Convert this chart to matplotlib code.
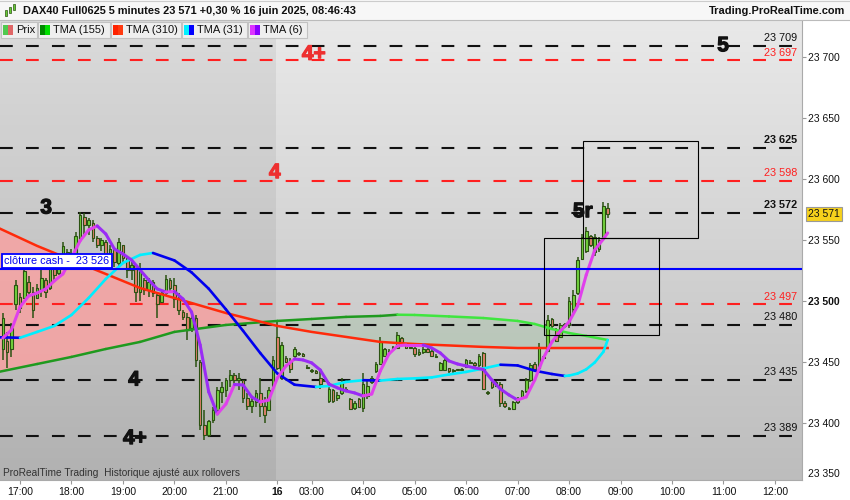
import numpy as np
import matplotlib
matplotlib.use("Agg")
import matplotlib.pyplot as plt
import matplotlib.patheffects as pe
from matplotlib.patches import Rectangle
from matplotlib.lines import Line2D
from matplotlib.colors import LinearSegmentedColormap

plt.rcParams['font.family'] = ['Liberation Sans', 'DejaVu Sans']
plt.rcParams['lines.scale_dashes'] = False

# ---------------- data ----------------
first_bar = -4   # bar index of first candle (Fri 16:40); Fri 17:00 = 0, Mon 03:00 = 68
opens = [23460, 23467, 23460, 23497, 23503, 23502, 23515, 23507, 23502, 23509,
         23517, 23510, 23529, 23523, 23532, 23540, 23535, 23537, 23551, 23569,
         23562, 23564, 23551, 23546, 23548, 23537, 23542, 23531, 23546, 23535,
         23525, 23529, 23507, 23517, 23509, 23515, 23505, 23499, 23506, 23517,
         23513, 23501, 23491, 23487, 23478, 23486, 23450, 23398, 23390, 23402,
         23410, 23425, 23427, 23435, 23439, 23435, 23435, 23420, 23414, 23417,
         23424, 23414, 23410, 23431,
         23470, 23437, 23453, 23450, 23455, 23457, 23456, 23446, 23443, 23442,
         23437, 23434, 23418, 23427, 23420, 23424, 23428, 23419, 23412, 23419,
         23412, 23422, 23433, 23442, 23448, 23455, 23459, 23461, 23461, 23469,
         23463, 23461, 23461, 23456, 23458, 23460, 23459, 23455, 23443, 23443,
         23445, 23442, 23443, 23443, 23446, 23450, 23449, 23447, 23457, 23425,
         23433, 23430, 23432, 23416, 23412, 23411, 23417, 23420, 23426, 23435,
         23448, 23445, 23454, 23459, 23485, 23476, 23470, 23479, 23480, 23493,
         23506, 23534, 23541, 23553, 23540, 23542, 23552, 23576]
highs = [23490, 23474, 23482, 23517, 23506, 23528, 23520, 23511, 23514, 23525,
         23519, 23535, 23533, 23537, 23548, 23542, 23542, 23556, 23573, 23572,
         23568, 23566, 23553, 23551, 23550, 23546, 23542, 23551, 23546, 23536,
         23532, 23529, 23531, 23519, 23519, 23517, 23506, 23509, 23521, 23519,
         23519, 23506, 23492, 23490, 23490, 23488, 23451, 23410, 23402, 23413,
         23429, 23433, 23437, 23443, 23441, 23441, 23435, 23424, 23421, 23427,
         23437, 23421, 23429, 23455,
         23484, 23466, 23455, 23453, 23462, 23458, 23457, 23447, 23444, 23443,
         23442, 23436, 23433, 23428, 23425, 23437, 23429, 23420, 23418, 23420,
         23441, 23435, 23438, 23450, 23470, 23461, 23460, 23463, 23474, 23470,
         23464, 23463, 23462, 23460, 23462, 23461, 23460, 23456, 23450, 23453,
         23445, 23444, 23444, 23445, 23452, 23451, 23450, 23456, 23458, 23426,
         23434, 23434, 23433, 23418, 23413, 23418, 23421, 23427, 23437, 23449,
         23450, 23465, 23455, 23488, 23486, 23478, 23482, 23482, 23503, 23509,
         23536, 23555, 23560, 23554, 23555, 23552, 23581, 23580]
lows = [23451, 23445, 23454, 23492, 23490, 23501, 23503, 23486, 23501, 23503,
        23502, 23509, 23517, 23521, 23528, 23529, 23531, 23533, 23550, 23552,
        23554, 23548, 23543, 23541, 23535, 23532, 23528, 23528, 23532, 23519,
        23517, 23499, 23500, 23505, 23503, 23503, 23486, 23498, 23505, 23507,
        23494, 23488, 23484, 23468, 23474, 23446, 23394, 23386, 23388, 23400,
        23408, 23416, 23421, 23429, 23432, 23427, 23416, 23410, 23408, 23413,
        23405, 23400, 23410, 23429,
        23443, 23435, 23449, 23441, 23453, 23455, 23454, 23444, 23441, 23440,
        23428, 23433, 23416, 23416, 23418, 23423, 23426, 23410, 23410, 23412,
        23409, 23419, 23432, 23441, 23447, 23454, 23457, 23460, 23460, 23465,
        23460, 23460, 23454, 23455, 23456, 23457, 23454, 23453, 23442, 23442,
        23441, 23441, 23442, 23442, 23445, 23448, 23446, 23446, 23427, 23423,
        23428, 23429, 23413, 23412, 23410, 23410, 23415, 23419, 23424, 23433,
        23443, 23444, 23452, 23458, 23477, 23466, 23470, 23478, 23478, 23490,
        23505, 23533, 23539, 23544, 23537, 23540, 23551, 23568]
closes = [23486, 23458, 23478, 23513, 23494, 23524, 23507, 23492, 23510, 23519,
          23507, 23532, 23521, 23535, 23545, 23533, 23539, 23553, 23570, 23562,
          23566, 23551, 23546, 23550, 23537, 23542, 23532, 23548, 23535, 23525,
          23529, 23507, 23525, 23509, 23515, 23506, 23497, 23506, 23518, 23510,
          23501, 23492, 23487, 23476, 23486, 23451, 23398, 23390, 23401, 23410,
          23427, 23429, 23435, 23439, 23435, 23437, 23420, 23414, 23418, 23424,
          23414, 23406, 23427, 23451,
          23445, 23464, 23450, 23444, 23460, 23456, 23455, 23445, 23442, 23441,
          23432, 23435, 23428, 23418, 23423, 23433, 23427, 23411, 23416, 23413,
          23432, 23430, 23437, 23448, 23466, 23460, 23458, 23462, 23472, 23466,
          23461, 23462, 23456, 23458, 23460, 23458, 23455, 23454, 23449, 23451,
          23442, 23443, 23443, 23444, 23451, 23449, 23447, 23455, 23428, 23424,
          23429, 23433, 23416, 23414, 23411, 23417, 23419, 23426, 23435, 23447,
          23444, 23462, 23453, 23484, 23479, 23467, 23480, 23481, 23500, 23505,
          23533, 23552, 23557, 23546, 23552, 23550, 23578, 23571]

# long moving averages (sampled bars)
ma_idx = [-5, 4, 12, 20, 28, 36, 48, 60, 68, 76, 84, 88, 92, 100, 108, 116,
          120, 124, 128, 132, 137]
tma155 = [23441.6, 23448.1, 23453.9, 23460.4, 23466.2, 23474.4, 23480.1,
          23483.4, 23485.0, 23486.7, 23487.5, 23488.5, 23488.3, 23487.1,
          23485.8, 23483.4, 23480.9, 23476.8, 23473.5, 23471.1, 23467.8]
tma310 = [23559.6, 23544.9, 23533.4, 23521.9, 23510.4, 23502.2, 23489.9,
          23479.3, 23474.4, 23470.3, 23466.2, 23465.3, 23464.5, 23463.3,
          23462.1, 23461.2, 23461.2, 23461.2, 23461.2, 23461.2, 23461.2]

t31_idx = [-5, 0, 4, 8, 12, 16, 20, 24, 28, 31, 36, 40, 44, 48, 52, 56, 60,
           64, 69, 72, 76, 80, 84, 88, 92, 96, 100, 104, 108, 112, 116, 120,
           124, 127, 128, 130, 132, 134, 136, 137]
tma31 = [23470.0, 23469.6, 23474.4, 23479.3, 23488.3, 23502.2, 23517.8,
         23530.9, 23537.5, 23539.1, 23533.0, 23523.2, 23509.8, 23492.9,
         23475.3, 23457.1, 23440.3, 23431.1, 23429.3, 23430.1, 23433.4,
         23434.8, 23434.5, 23435.8, 23436.3, 23437.1, 23439.5, 23441.6,
         23444.4, 23447.5, 23446.9, 23442.6, 23439.9, 23438.3, 23438.6,
         23440.3, 23443.7, 23449.4, 23458.1, 23467.8]

t6_idx = list(range(-4, 137, 2)) + [137]
tma6 = [23469.4, 23476.0, 23494.8, 23503.9, 23506.3, 23509.6, 23516.2,
        23521.9, 23535.0, 23549.0, 23558.0, 23561.3, 23554.7, 23542.4,
        23538.3, 23533.4, 23525.2, 23517.0, 23509.6, 23507.1, 23507.5,
        23501.4, 23490.7, 23463.7, 23425.2, 23407.1, 23415.3, 23431.3,
        23430.9, 23421.1, 23417.0, 23418.6, 23436.7, 23446.5, 23452.2,
        23451.4, 23449.0, 23443.2, 23431.7, 23428.5, 23426.0, 23424.4,
        23421.9, 23423.5, 23442.4, 23456.3, 23462.9, 23463.7, 23463.7,
        23463.7, 23461.2, 23457.1, 23450.6, 23448.1, 23446.5, 23444.9,
        23443.6, 23435.0, 23427.6, 23422.7, 23418.6, 23421.1, 23435.0,
        23453.0, 23466.2, 23475.2, 23482.6, 23495.7, 23521.1, 23541.6,
        23550.6, 23555.5]

levels_black = [23709, 23625, 23572, 23480, 23435, 23389]
levels_red = [23697, 23598, 23497]
bold_levels = [23625, 23572]
cash_level = 23526
last_price = 23571

wave_labels = ["3", "4+", "4", "5", "5r", "4", "4+"]
wave_x = [6.1, 68.5, 59.4, 163.9, 131.2, 26.6, 26.8]
wave_y = [23576, 23702, 23605, 23709, 23573, 23435, 23387]
wave_red = [False, True, True, False, False, False, False]

box_x0 = [122.1, 131.2]
box_x1 = [149.0, 158.0]
box_lo = [23472, 23551]
box_hi = [23551, 23631]

tick_pos = [0, 12, 24, 36, 48, 60, 68, 80, 92, 104, 116, 128, 140, 152, 164, 176]
tick_lab = ['17:00', '18:00', '19:00', '20:00', '21:00', '16', '03:00', '04:00',
            '05:00', '06:00', '07:00', '08:00', '09:00', '10:00', '11:00', '12:00']
y_ticks = [23400, 23450, 23500, 23550, 23600, 23650, 23700]
session_split = 59.7

# ---------------- figure ----------------
W, H = 850, 500
fig = plt.figure(figsize=(8.5, 5), dpi=100)
fig.patch.set_facecolor('white')
AX_L, AX_R, AX_T, AX_B = 0, 802, 20, 480
ax = fig.add_axes([AX_L / W, 1 - AX_B / H, (AX_R - AX_L) / W, (AX_B - AX_T) / H])
XMIN, XMAX = -4.66, 182.3
YMIN, YMAX = 23353.0, 23730.1


def fmt(v):
    return f"{v:,.0f}".replace(",", " ")


# background gradient
cmap = LinearSegmentedColormap.from_list('bg', ['#e9e9e9', '#bdbdbd'])
ax.imshow(np.linspace(0, 1, 256).reshape(-1, 1), extent=[XMIN, XMAX, YMIN, YMAX],
          aspect='auto', cmap=cmap, origin='upper', zorder=0)
ax.axvspan(XMIN, session_split, color='black', alpha=0.06, lw=0, zorder=0.5)

# fill between long MAs
mi = np.array(ma_idx, float)
g = np.array(tma155)
r = np.array(tma310)
ax.fill_between(mi, r, g, where=r >= g, interpolate=True, color='#f7a2a2',
                alpha=0.85, lw=0, zorder=1)
ax.fill_between(mi, r, g, where=g >= r, interpolate=True, color='#a8c4a8',
                alpha=0.45, lw=0, zorder=1)

# level lines
for lv in levels_black:
    ax.axhline(lv, color='#111111', lw=1.5, dashes=(9.2, 9.5), zorder=2)
for lv in levels_red:
    ax.axhline(lv, color='#ff2020', lw=1.5, dashes=(9.2, 9.5), zorder=2)

# candles
idx = np.arange(first_bar, first_bar + len(closes))
o = np.array(opens, float); hh = np.array(highs, float)
ll = np.array(lows, float); c = np.array(closes, float)
up = c >= o
EDGE = '#2b5212'
ax.vlines(idx, ll, hh, color=EDGE, lw=1.1, zorder=3)
body_b = np.minimum(o, c)
body_h = np.maximum(np.abs(c - o), 0.8)
ax.bar(idx, body_h, bottom=body_b, width=0.62,
       color=np.where(up, '#72d33e', '#e3806c'), edgecolor=EDGE, linewidth=0.8,
       zorder=3.1)


def seg_plot(xs, ys, upc, dnc, lw, z):
    for k in range(len(xs) - 1):
        col = upc if ys[k + 1] >= ys[k] else dnc
        ax.plot(xs[k:k + 2], ys[k:k + 2], color=col, lw=lw,
                solid_capstyle='round', zorder=z)


seg_plot(ma_idx, tma155, '#1f9a1f', '#3fe63f', 1.8, 4)
ax.plot(ma_idx, tma310, color='#ff2a0a', lw=1.8, zorder=4)
seg_plot(t31_idx, tma31, '#00eeff', '#0000ee', 1.9, 4.1)
seg_plot(t6_idx, tma6, '#e040ec', '#9a2cf5', 2.2, 4.2)

# cash close line
ax.axhline(cash_level, color='#0000ff', lw=1.5, zorder=4.5)
ax.annotate(f"clôture cash -  {fmt(cash_level)}", xy=(XMIN, cash_level),
            xytext=(3, 2.2), textcoords='offset points', ha='left', va='bottom',
            fontsize=7.8, color='#0000ee', zorder=6,
            bbox=dict(boxstyle='square,pad=0.22', fc='white', ec='#0000ff', lw=1.3))

# boxes
for x0, x1, lo, hi in zip(box_x0, box_x1, box_lo, box_hi):
    ax.add_patch(Rectangle((x0, lo), x1 - x0, hi - lo, fill=False,
                           ec='black', lw=0.8, zorder=4.6))

# level labels
trans = matplotlib.transforms.blended_transform_factory(ax.transAxes, ax.transData)
for lv in levels_black + levels_red:
    col = '#ff2020' if lv in levels_red else '#111111'
    fw = 'bold' if lv in bold_levels else 'normal'
    ax.annotate(fmt(lv), xy=(797 / 802, lv), xycoords=trans, xytext=(0, 2),
                textcoords='offset points', ha='right', va='bottom',
                fontsize=7.8, color=col, fontweight=fw, zorder=6)

# wave labels
for t, x, y, isred in zip(wave_labels, wave_x, wave_y, wave_red):
    col = '#ee3030' if isred else '#111111'
    ax.text(x, y, t, ha='center', va='center', fontsize=15, fontweight='bold',
            color=col, zorder=6,
            path_effects=[pe.withStroke(linewidth=0.9, foreground=col)])

# axes
ax.set_xlim(XMIN, XMAX)
ax.set_ylim(YMIN, YMAX)
ax.yaxis.tick_right()
ax.set_yticks(y_ticks)
ax.set_yticklabels([fmt(v) for v in y_ticks])
for lbl in ax.get_yticklabels():
    if lbl.get_text() == '23 500':
        lbl.set_fontweight('bold')
ax.tick_params(axis='y', length=3, color='#999999', labelsize=7.5, pad=1.5,
               labelcolor='#111111')
ax.set_xticks(tick_pos)
ax.set_xticklabels(tick_lab)
for lbl in ax.get_xticklabels():
    if lbl.get_text() == '16':
        lbl.set_fontweight('bold')
ax.tick_params(axis='x', length=3, color='#999999', labelsize=7.5, pad=2,
               labelcolor='#111111')
for s in ['top', 'left']:
    ax.spines[s].set_visible(False)
for s in ['right', 'bottom']:
    ax.spines[s].set_color('#aaaaaa')
    ax.spines[s].set_linewidth(0.8)

ax.annotate(fmt(23350), xy=(1, 0), xycoords='axes fraction', xytext=(4.3, 0.5),
            textcoords='offset points', ha='left', va='bottom', fontsize=7.5,
            color='#111111', annotation_clip=False)
ax.annotate(fmt(last_price), xy=(1, last_price), xycoords=trans, xytext=(4.5, 0),
            textcoords='offset points', ha='left', va='center', fontsize=7.5,
            color='#111111', annotation_clip=False, zorder=7,
            bbox=dict(boxstyle='square,pad=0.2', fc='#f6d11c', ec='#999999', lw=0.8))

ax.text(0.004, 0.004, "ProRealTime Trading  Historique ajusté aux rollovers",
        transform=ax.transAxes, ha='left', va='bottom', fontsize=7.3,
        color='#333333', zorder=6)


# ---------------- header ----------------
def fx(x):
    return x / W


def fy(y):
    return 1 - y / H


def frect(x0, y0, x1, y1, **kw):
    fig.patches.append(Rectangle((fx(x0), fy(y1)), (x1 - x0) / W, (y1 - y0) / H,
                                 transform=fig.transFigure, **kw))


frect(0, 0, 850, 20, fc='#f7f7f7', ec='none')
fig.add_artist(Line2D([0, 1], [fy(20), fy(20)], color='#bbbbbb', lw=0.8))
fig.add_artist(Line2D([0, 1], [fy(0.5), fy(0.5)], color='#cccccc', lw=0.8))
for (x0, y0, x1, y1) in [(5, 10, 7, 16), (9, 7, 11, 13), (13, 4, 15, 10)]:
    frect(x0, y0, x1, y1, fc='#66cc33', ec='#2b5212', lw=0.5)
fig.text(fx(23), fy(10.5), "DAX40 Full0625 5 minutes 23 571 +0,30 % 16 juin 2025, 08:46:43",
         ha='left', va='center', fontsize=7.9, fontweight='bold', color='#111111')
fig.text(fx(845), fy(10.5), "Trading.ProRealTime.com", ha='right', va='center',
         fontsize=7.9, fontweight='bold', color='#111111')

legend_items = [("Prix", 0, 37, '#4fc94f', '#e06666'),
                ("TMA (155)", 37, 110, '#008a00', '#00e000'),
                ("TMA (310)", 110, 181, '#ff2200', '#ff3a10'),
                ("TMA (31)", 181, 247, '#00f0ff', '#0000ff'),
                ("TMA (6)", 247, 307, '#dd33ff', '#8800ff')]
for name, x0, x1, c1, c2 in legend_items:
    frect(x0 + 0.5, 22, x1, 38, fc='#efefef', ec='#c2c2c2', lw=0.8)
    frect(x0 + 3, 25, x0 + 8, 35, fc=c1, ec='none')
    frect(x0 + 8, 25, x0 + 13, 35, fc=c2, ec='none')
    fig.text(fx(x0 + 16), fy(30), name, ha='left', va='center', fontsize=8,
             color='#111111')

fig.savefig('out.png', dpi=100, facecolor='white')
